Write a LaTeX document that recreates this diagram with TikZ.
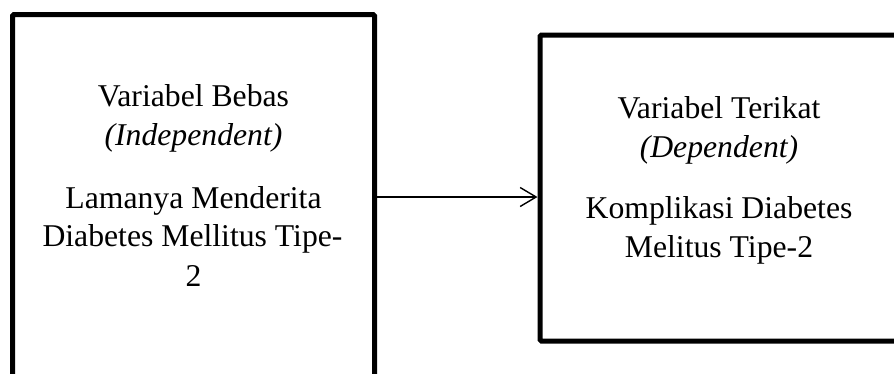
\documentclass[tikz,border=0pt]{standalone}
\usepackage{fontspec}
\setmainfont{Liberation Serif}
\usetikzlibrary{arrows.meta}
\begin{document}
\begin{tikzpicture}[x=1pt,y=-1pt,
  box/.style={draw=black, line width=5pt, inner sep=0pt, rounded corners=1.5pt},
  txt/.style={anchor=base, inner sep=0pt, font=\fontsize{31.7}{38}\selectfont},
  arr/.style={line width=1.4pt, -{Straight Barb[length=16pt,width=19pt,line width=1.4pt]}}]
\useasboundingbox (0,0) rectangle (894,373);
\clip (0,0) rectangle (894,373);
\node[box, minimum width=362pt, minimum height=415.5pt] (left) at (193.5,222.25) {};
\node[box, minimum width=370pt, minimum height=306pt] (right) at (725,188) {};
\node[txt] (l1) at (193.5,106.7) {Variabel Bebas};
\node[txt] (l2) at (193.5,145) {\itshape (Independent)};
\node[txt] (l3) at (193.5,208) {Lamanya Menderita};
\node[txt] (l4) at (192.5,246.5) {Diabetes Mellitus Tipe-};
\node[txt] (l5) at (193.5,286.5) {2};
\node[txt] (r1) at (719,118) {Variabel Terikat};
\node[txt] (r2) at (719,157) {\itshape (Dependent)};
\node[txt] (r3) at (719,218) {Komplikasi Diabetes};
\node[txt] (r4) at (719,257) {Melitus Tipe-2};
\coordinate (ay) at (0,197);
\draw[arr] (left.east |- ay) -- (right.west |- ay);
\end{tikzpicture}
\end{document}
